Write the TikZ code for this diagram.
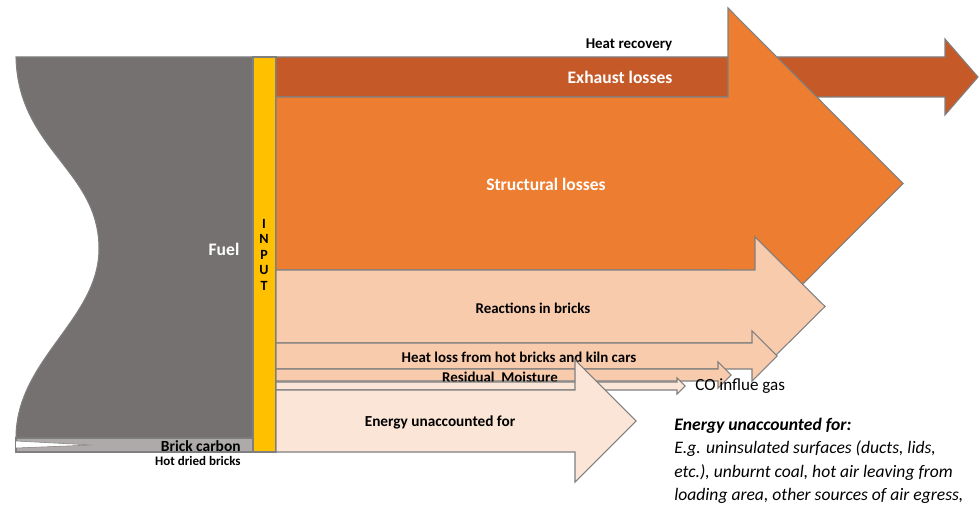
\documentclass[tikz,border=0pt]{standalone}
\usepackage{fontspec}
\setmainfont{Carlito}
\definecolor{fuelgray}{HTML}{767171}
\definecolor{carbongray}{HTML}{AEAAAA}
\definecolor{inputyellow}{HTML}{FFC000}
\definecolor{exhaustbrown}{HTML}{C55A28}
\definecolor{structorange}{HTML}{ED7D31}
\definecolor{reactpeach}{HTML}{F8CBAD}
\definecolor{unaccpeach}{HTML}{FBE5D6}
\definecolor{edgegray}{HTML}{7F7F7F}
\tikzset{
  flow/.style={draw=edgegray,line width=0.6pt,line join=miter},
  lbl/.style={font=\bfseries\fontsize{8.5}{10}\selectfont,inner sep=0pt},
  biglbl/.style={font=\bfseries\fontsize{10}{12}\selectfont,text=white,inner sep=0pt},
}
\begin{document}
\begin{tikzpicture}[x=0.02cm,y=-0.02cm]
\useasboundingbox (0,0) rectangle (979,509);
% fuel and brick carbon
\filldraw[fill=carbongray,draw=edgegray,line width=0.6pt] (16,438) -- (253,438) -- (253,452) -- (16,452) -- cycle;
\filldraw[fill=white,draw=edgegray,line width=0.3pt] (16,441) -- (92,445) -- (16,448);
\filldraw[fill=fuelgray,draw=edgegray,line width=0.6pt] (16,57) -- (253,57) -- (253,438) -- (16,438)
  .. controls (16,360) and (98,320) .. (99,250) .. controls (100,170) and (18,150) .. (16,57) -- cycle;
\node[biglbl] (fuel) at (224,249) {Fuel};
\node[lbl,anchor=east,font=\bfseries\fontsize{8.8}{10}\selectfont] (carbon) at (241,446) {Brick carbon};
\node[lbl,anchor=east,font=\bfseries\fontsize{7.4}{9}\selectfont] (dried) at (241,461) {Hot dried bricks};
% input bar
\filldraw[fill=inputyellow,draw=edgegray,line width=0.6pt] (253,57) rectangle (276,452);
\foreach \ch [count=\i] in {I,N,P,U,T}
  \node[lbl,font=\bfseries\fontsize{8}{9}\selectfont] (input\i) at (264,{208+15.5*\i}) {\ch};
% losses
\filldraw[flow,fill=exhaustbrown] (276,57) -- (945,57) -- (945,39) -- (978,77) -- (945,115) -- (945,97) -- (276,97) -- cycle;
\node[biglbl] (exhaust) at (620,77) {Exhaust losses};
\node[lbl] (recovery) at (629,45) {Heat recovery};
\filldraw[flow,fill=structorange] (276,97) -- (728,97) -- (728,8) -- (903,183.5) -- (728,359) -- (728,270) -- (276,270) -- cycle;
\node[biglbl] (structural) at (546,184) {Structural losses};
\filldraw[flow,fill=reactpeach] (276,270) -- (755,270) -- (755,237) -- (825,306.5) -- (755,376) -- (755,343) -- (276,343) -- cycle;
\node[lbl] (reactions) at (533,308) {Reactions in bricks};
\filldraw[flow,fill=reactpeach] (276,343) -- (752,343) -- (752,331) -- (777,356) -- (752,381) -- (752,369) -- (276,369) -- cycle;
\node[lbl] (heatloss) at (519,357) {Heat loss from hot bricks and kiln cars};
\filldraw[flow,fill=reactpeach] (276,369) -- (718,369) -- (718,362) -- (731,375) -- (718,388) -- (718,381) -- (276,381) -- cycle;
\node[lbl] (moisture) at (500,377) {Residual~ Moisture};
\filldraw[flow,fill=unaccpeach] (276,382) -- (677,382) -- (677,378) -- (685,386) -- (677,394) -- (677,390) -- (276,390) -- cycle;
\node[anchor=west,inner sep=0pt,font=\fontsize{9.7}{11}\selectfont] (coflue) at (695,386) {CO influe gas};
\filldraw[flow,fill=unaccpeach] (276,390) -- (575,390) -- (575,360) -- (636,421) -- (575,482) -- (575,452) -- (276,452) -- cycle;
\node[lbl,font=\bfseries\fontsize{8.7}{10}\selectfont] (unacc) at (440,422) {Energy unaccounted for};
% note
\node[anchor=north west,align=left,inner sep=0pt,font=\itshape\fontsize{10}{13.2}\selectfont] (note) at (674,418)
  {\textbf{Energy unaccounted for:}\\E.g. uninsulated surfaces (ducts, lids,\\etc.), unburnt coal, hot air leaving from\\loading area, other sources of air egress,};
\end{tikzpicture}
\end{document}
